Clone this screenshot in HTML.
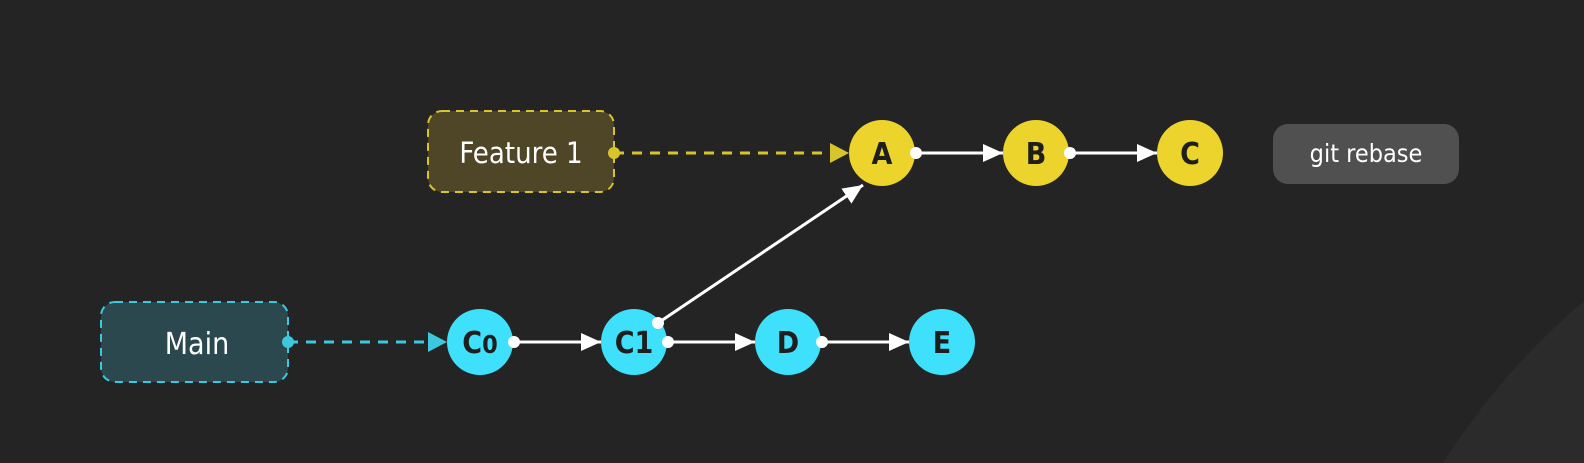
<!DOCTYPE html>
<html><head><style>
html,body{margin:0;padding:0;background:#242424;overflow:hidden;width:1584px;height:463px;}
svg{display:block;}
text{font-family:"DejaVu Sans Condensed","Liberation Sans",sans-serif;}
</style></head><body>
<svg width="1584" height="463" viewBox="0 0 1584 463" xmlns="http://www.w3.org/2000/svg">
<defs>
<marker id="aw" markerWidth="20" markerHeight="18" refX="20" refY="9" orient="auto" markerUnits="userSpaceOnUse" viewBox="0 0 20 18"><path d="M0,0 L20,9 L0,18 z" fill="#fff"/></marker>
</defs>
<rect width="1584" height="463" fill="#242424"/>
<circle cx="2050" cy="850" r="720" fill="#2b2b2b"/>
<rect x="428" y="111" width="186" height="81" rx="14" fill="#4e4626" stroke="#d8c52c" stroke-width="2" stroke-dasharray="8,6"/>
<text x="521" y="163" font-size="29" fill="#fff" text-anchor="middle">Feature 1</text>
<rect x="101" y="302" width="187" height="80" rx="14" fill="#2a484d" stroke="#3cc8de" stroke-width="2" stroke-dasharray="8,6"/>
<text x="197" y="354" font-size="30" fill="#fff" text-anchor="middle">Main</text>
<rect x="1273" y="124" width="186" height="60" rx="15" fill="#505050"/>
<text x="1366" y="162" font-size="25" fill="#fff" text-anchor="middle">git rebase</text>
<line x1="614" y1="153" x2="830" y2="153" stroke="#d8c52c" stroke-width="3" stroke-dasharray="10,8"/>
<path d="M830,143 L849,153 L830,163 z" fill="#d8c52c"/>
<circle cx="614" cy="153" r="6" fill="#d8c52c"/>
<line x1="288" y1="342" x2="428" y2="342" stroke="#3cc8de" stroke-width="3" stroke-dasharray="10,8"/>
<path d="M428,332 L447,342 L428,352 z" fill="#3cc8de"/>
<circle cx="288" cy="342" r="6" fill="#3cc8de"/>
<g stroke="#fff" stroke-width="3" marker-end="url(#aw)">
<line x1="916" y1="153" x2="1003" y2="153"/>
<line x1="1070" y1="153" x2="1157" y2="153"/>
<line x1="514" y1="342" x2="601" y2="342"/>
<line x1="668" y1="342" x2="755" y2="342"/>
<line x1="822" y1="342" x2="909" y2="342"/>
<line x1="658" y1="323" x2="863" y2="185"/>
</g>
<g fill="#ecd42c">
<circle cx="882" cy="153" r="33"/><circle cx="1036" cy="153" r="33"/><circle cx="1190" cy="153" r="33"/>
</g>
<g fill="#3ee0fb">
<circle cx="480" cy="342" r="33"/><circle cx="634" cy="342" r="33"/><circle cx="788" cy="342" r="33"/><circle cx="942" cy="342" r="33"/>
</g>
<g font-size="30" font-weight="bold" fill="#1e1e1e" text-anchor="middle">
<text x="882" y="164">A</text><text x="1036" y="164">B</text><text x="1190" y="164">C</text>
<text x="480" y="353">C<tspan font-size="25">0</tspan></text><text x="634" y="353">C1</text><text x="788" y="353">D</text><text x="942" y="353">E</text>
</g>
<g fill="#fff">
<circle cx="916" cy="153" r="6"/><circle cx="1070" cy="153" r="6"/>
<circle cx="514" cy="342" r="6"/><circle cx="668" cy="342" r="6"/><circle cx="822" cy="342" r="6"/><circle cx="658" cy="323" r="6"/>
</g>
</svg>
</body></html>
